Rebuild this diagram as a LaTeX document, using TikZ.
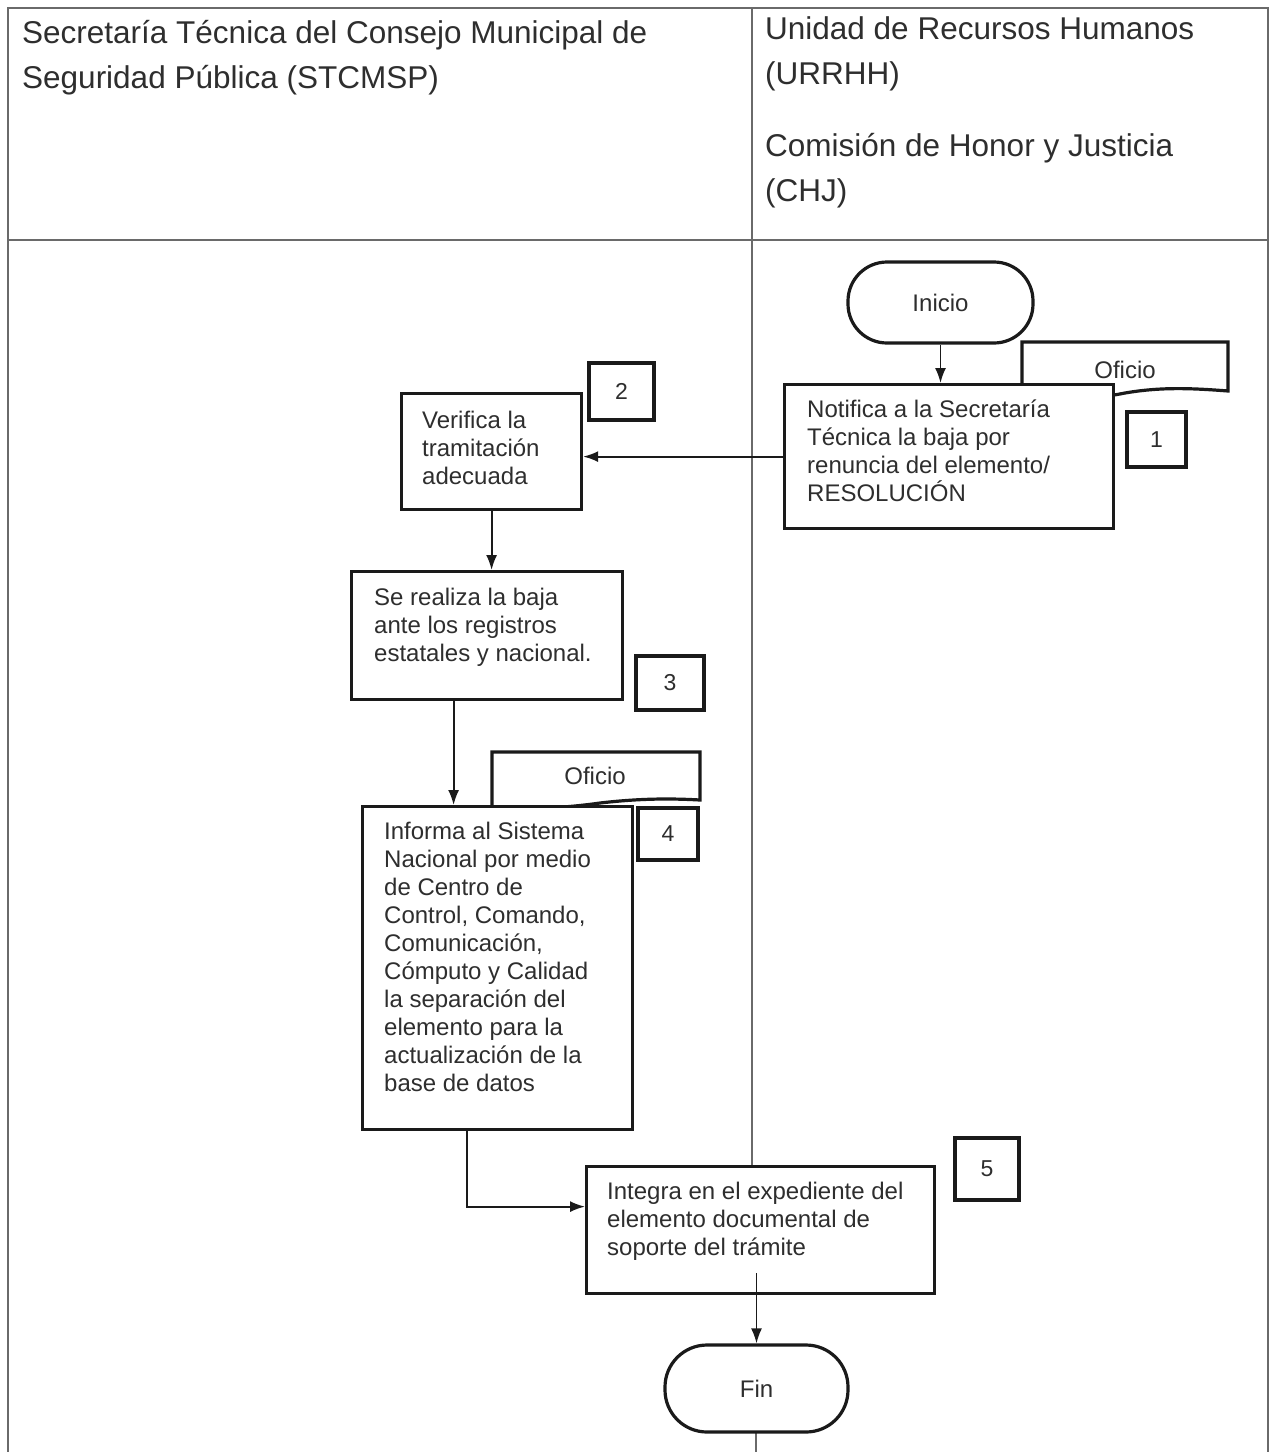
\documentclass[tikz,border=0pt]{standalone}
\usepackage{fontspec}
\setmainfont{Liberation Sans}
\usetikzlibrary{arrows.meta}
\definecolor{ink}{HTML}{1A1A1A}
\definecolor{txt}{HTML}{2E2E2E}
\definecolor{gridc}{HTML}{6A6A6A}
\begin{document}
\begin{tikzpicture}[x=1pt,y=-1pt,
 pbox/.style={draw=ink, line width=3.2pt, fill=white, rectangle, inner sep=0pt, anchor=north west},
 nbox/.style={draw=ink, line width=3.2pt, fill=white, rectangle, inner sep=0pt, font=\fontsize{23}{26}\selectfont, text=txt},
 term/.style={draw=ink, line width=3.2pt, fill=white, rectangle, inner sep=0pt, font=\fontsize{24}{28}\selectfont, text=txt},
 doc/.style={draw=ink, line width=3.2pt, fill=white},
 dtxt/.style={font=\fontsize{24}{28}\selectfont, text=txt, inner sep=0pt},
 btxt/.style={anchor=north west, inner sep=0pt, align=left, font=\fontsize{24}{28}\selectfont, text=txt},
 htxt/.style={anchor=north west, inner sep=0pt, align=left, font=\fontsize{31.5}{45.5}\selectfont, text=txt},
 conn/.style={draw=ink, line width=1.8pt},
 arr/.style={conn, -{Latex[length=15pt,width=11pt]}},
 gridl/.style={draw=gridc, line width=1.3pt}]
\useasboundingbox (0,0) rectangle (1273,1452);
% table
\draw[gridl] (8,1452) -- (8,8) -- (1268,8) -- (1268,1452);
\draw[gridl] (8,240) -- (1268,240);
\draw[gridl] (752,8) -- (752,1170);
\draw[gridl] (756,1425) -- (756,1452);
% headers
\node[htxt] (h1) at (22,20) {Secretaría Técnica del Consejo Municipal de\\Seguridad Pública (STCMSP)};
\node[htxt] (h2) at (765,16) {Unidad de Recursos Humanos\\(URRHH)};
\node[htxt] (h3) at (765,133) {Comisión de Honor y Justicia\\(CHJ)};
% documents
\draw[doc] (1022,398) -- (1022,342) -- (1228,342) -- (1228,391)
  .. controls (1190,388) and (1160,387) .. (1125,393)
  .. controls (1090,400) and (1050,402) .. (1022,398) -- cycle;
\node[dtxt] (o1) at (1125,370) {Oficio};
\draw[doc] (492,808) -- (492,752) -- (700,752) -- (700,800)
  .. controls (665,798) and (635,799) .. (600,803)
  .. controls (565,808) and (525,810) .. (492,808) -- cycle;
\node[dtxt] (o2) at (595,776) {Oficio};
% terminators
\node[term, rounded corners=39pt, minimum width=185pt, minimum height=81pt] (ini) at (940.5,302.5) {Inicio};
% process boxes
\node[pbox, minimum width=329pt, minimum height=144pt] (b1) at (783,383) {};
\node[btxt] (t1) at (807,400) {Notifica a la Secretaría\\Técnica la baja por\\renuncia del elemento/\\RESOLUCIÓN};
\node[pbox, minimum width=180pt, minimum height=116pt] (b2) at (400,392) {};
\node[btxt] (t2) at (422,411) {Verifica la\\tramitación\\adecuada};
\node[pbox, minimum width=271pt, minimum height=128pt] (b3) at (350,570) {};
\node[btxt] (t3) at (374,588) {Se realiza la baja\\ante los registros\\estatales y nacional.};
\node[pbox, minimum width=270pt, minimum height=323pt] (b4) at (361,805) {};
\node[btxt] (t4) at (384,822) {Informa al Sistema\\Nacional por medio\\de Centro de\\Control, Comando,\\Comunicación,\\Cómputo y Calidad\\la separación del\\elemento para la\\actualización de la\\base de datos};
\node[pbox, minimum width=348pt, minimum height=127pt] (b5) at (585,1165) {};
\node[btxt] (t5) at (607,1182) {Integra en el expediente del\\elemento documental de\\soporte del trámite};
\node[term, rounded corners=42pt, minimum width=183pt, minimum height=87pt] (fin) at (756.5,1388.5) {Fin};
% number boxes
\node[nbox, minimum width=59pt, minimum height=55pt] (n1) at (1156.5,439.5) {1};
\node[nbox, minimum width=65pt, minimum height=57pt] (n2) at (621.5,391.5) {2};
\node[nbox, minimum width=68pt, minimum height=54pt] (n3) at (670,683) {3};
\node[nbox, minimum width=60pt, minimum height=52pt] (n4) at (668,834) {4};
\node[nbox, minimum width=64pt, minimum height=62pt] (n5) at (987,1169) {5};
% connectors
\draw[arr] (ini.south) -- (ini.south |- b1.north);
\draw[arr] (b1.west) -- (b1.west -| b2.east);
\draw[arr] (b2.south) -- (b2.south |- b3.north);
\draw[arr] ([xshift=-33.5pt]b3.south) -- ([xshift=-33.5pt]b3.south |- b4.north);
\draw[arr] ([xshift=-31pt]b4.south) |- ([yshift=23.5pt]b5.west);
\draw[arr] ([yshift=22pt]b5.south -| fin.north) -- (fin.north);
\end{tikzpicture}
\end{document}
